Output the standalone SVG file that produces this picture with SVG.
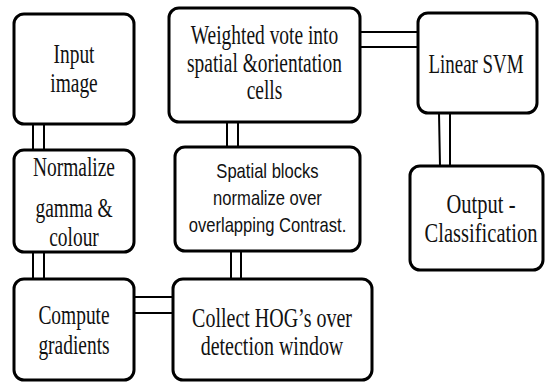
<svg xmlns="http://www.w3.org/2000/svg" width="548" height="383" viewBox="0 0 548 383">
  <style>
    .box { fill: #ffffff; stroke: #000000; stroke-width: 3; }
    .link { stroke: #000000; stroke-width: 2; fill: none; }
    .serif { font-family: 'Liberation Serif', 'DejaVu Serif', 'Times New Roman', Times, serif; font-size: 27px; fill: #111111; text-anchor: middle; }
    .sans { font-family: 'Liberation Sans', Arial, sans-serif; font-size: 20px; fill: #111111; text-anchor: middle; }
  </style>

  <!-- double-line connectors between the steps -->
  <g id="connectors">
    <path class="link" d="M33 124 V150 M44 124 V150"/>
    <path class="link" d="M33 252 V279 M44 252 V279"/>
    <path class="link" d="M134 297 H173 M134 313 H173"/>
    <path class="link" d="M231 251 V279 M241 251 V279"/>
    <path class="link" d="M227 122 V147 M238 122 V147"/>
    <path class="link" d="M360 32 H418 M360 47 H418"/>
    <path class="link" d="M439 113 L440 166 M450 113 V166"/>
  </g>

  <g id="input-image">
    <rect class="box" x="14" y="14" width="120" height="110" rx="10"/>
    <g transform="translate(74,0) scale(0.72,1)">
      <text class="serif" x="0" y="63">Input</text>
      <text class="serif" x="0" y="92">image</text>
    </g>
  </g>

  <g id="normalize-gamma">
    <rect class="box" x="14" y="150" width="120" height="102" rx="10"/>
    <g transform="translate(74,0) scale(0.72,1)">
      <text class="serif" x="0" y="176">Normalize</text>
      <text class="serif" x="0" y="217">gamma &amp;</text>
      <text class="serif" x="0" y="246">colour</text>
    </g>
  </g>

  <g id="compute-gradients">
    <rect class="box" x="14" y="279" width="120" height="101" rx="10"/>
    <g transform="translate(74,0) scale(0.72,1)">
      <text class="serif" x="0" y="324">Compute</text>
      <text class="serif" x="0" y="354">gradients</text>
    </g>
  </g>

  <g id="weighted-vote">
    <rect class="box" x="169" y="8" width="191" height="114" rx="10"/>
    <g transform="translate(264.5,0) scale(0.72,1)">
      <text class="serif" x="0" y="44">Weighted vote into</text>
      <text class="serif" x="0" y="72">spatial &amp;orientation</text>
      <text class="serif" x="0" y="99">cells</text>
    </g>
  </g>

  <g id="spatial-blocks">
    <rect class="box" x="175" y="147" width="185" height="104" rx="10"/>
    <g transform="translate(267.5,0) scale(0.83,1)">
      <text class="sans" x="0" y="178">Spatial blocks</text>
      <text class="sans" x="0" y="205">normalize over</text>
      <text class="sans" x="0" y="232">overlapping Contrast.</text>
    </g>
  </g>

  <g id="collect-hog">
    <rect class="box" x="173" y="279" width="199" height="101" rx="10"/>
    <g transform="translate(272,0) scale(0.74,1)">
      <text class="serif" x="0" y="327" font-size="26">Collect HOG’s over</text>
      <text class="serif" x="0" y="355" font-size="26">detection window</text>
    </g>
  </g>

  <g id="linear-svm">
    <rect class="box" x="418" y="13" width="119" height="100" rx="10"/>
    <g transform="translate(476,0) scale(0.7,1)">
      <text class="serif" x="0" y="73">Linear SVM</text>
    </g>
  </g>

  <g id="output-classification">
    <rect class="box" x="410" y="166" width="133" height="104" rx="10"/>
    <g transform="translate(481,0) scale(0.76,1)">
      <text class="serif" x="0" y="213">Output -</text>
      <text class="serif" x="0" y="242">Classification</text>
    </g>
  </g>
</svg>
